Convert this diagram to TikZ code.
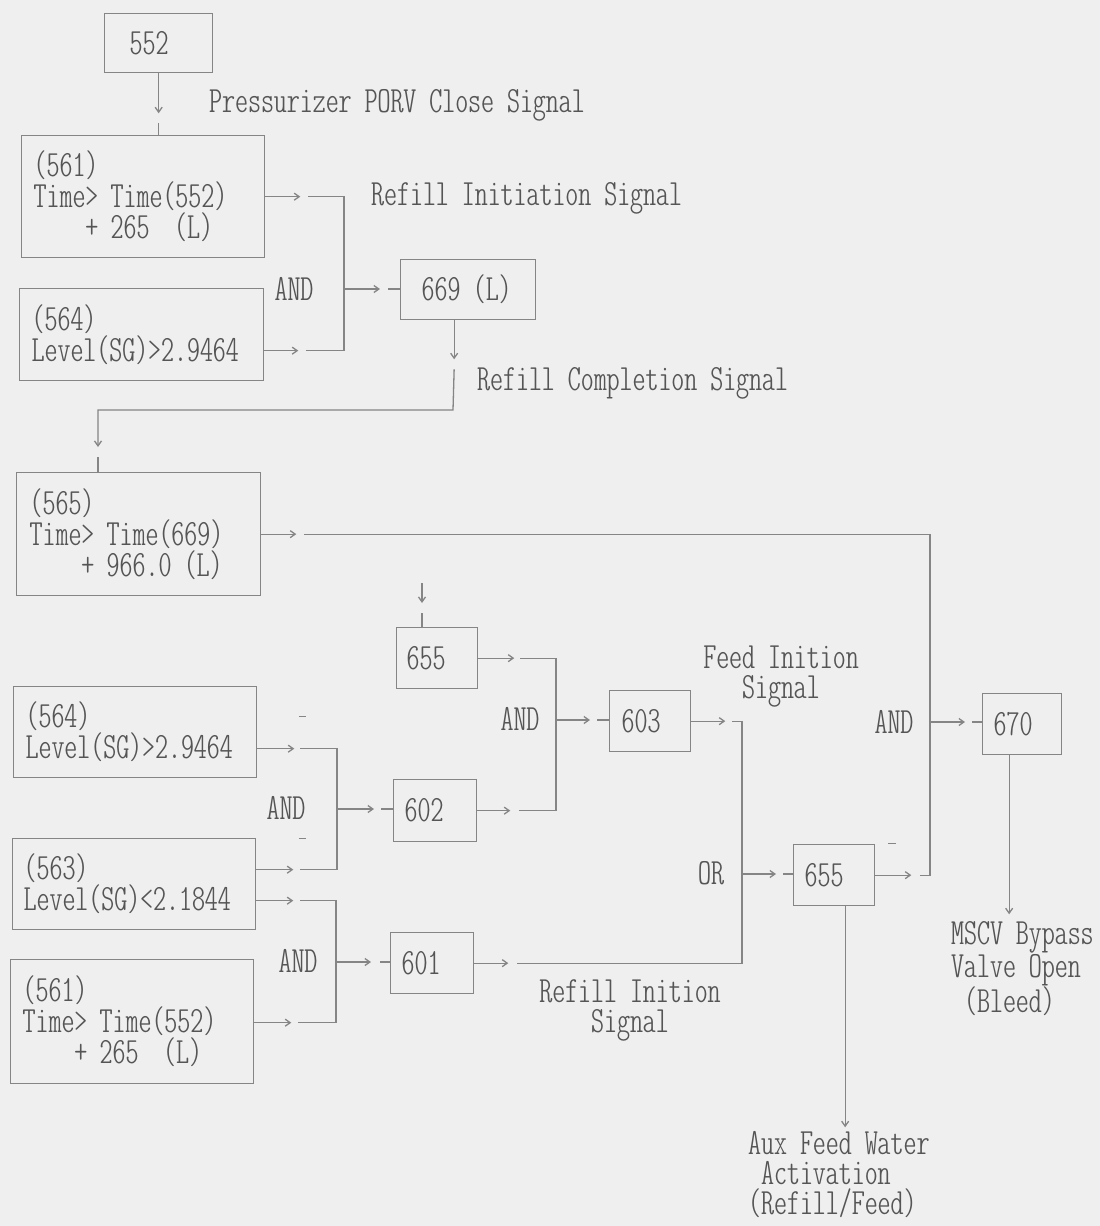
\documentclass[tikz,border=0pt]{standalone}
\usetikzlibrary{arrows.meta,calc}
\definecolor{bgc}{HTML}{EFEFEF}
\definecolor{lnc}{HTML}{858585}
\definecolor{txc}{HTML}{555555}
\newcommand\fnt{\fontfamily{lmtt}\fontseries{lc}\fontsize{37}{31}\selectfont}
\newcommand\fntl{\fontfamily{lmtt}\fontseries{lc}\fontsize{37}{30}\selectfont}
\newcommand\bx[8]{\node[box, minimum width=#4pt, minimum height=#5pt, inner xsep=#6pt, text width=#7pt] (#1) at (#2,#3) {#8};}
\begin{document}
\begin{tikzpicture}[x=1pt,y=-1pt,
  ln/.style={draw=lnc, line width=1.3pt},
  sa/.style={ln, -{Straight Barb[length=5pt,width=7pt]}},
  box/.style={draw=lnc, line width=1.3pt, text=txc, font=\fnt, align=left, anchor=north west, inner ysep=0pt},
  lbl/.style={text=txc, font=\fntl, inner sep=0pt}]
\fill[bgc] (0,0) rectangle (1100,1226);
\useasboundingbox (0,0) rectangle (1100,1226);
% boxes
\bx{b552}{104}{13}{108}{59}{25}{58}{552}
\bx{b561a}{21}{135}{243}{122}{12}{219}{(561)\\Time>~Time(552)\\\hphantom{Time}+~265~~(L)}
\bx{b564a}{19}{288}{244}{92}{12}{220}{(564)\\Level(SG)>2.9464}
\bx{b669}{400}{259}{135}{60}{21}{93}{669~(L)}
\bx{b565}{16}{472}{244}{123}{13}{218}{(565)\\Time>~Time(669)\\\hphantom{Time}+~966.0~(L)}
\bx{b655a}{396}{627}{81}{61}{10}{61}{655}
\bx{b564b}{13}{686}{243}{91}{12}{219}{(564)\\Level(SG)>2.9464}
\bx{b563}{12}{838}{243}{91}{11}{221}{(563)\\Level(SG)<2.1844}
\bx{b561b}{10}{959}{243}{124}{12}{219}{(561)\\Time>~Time(552)\\\hphantom{Time}+~265~~(L)}
\bx{b602}{393}{779}{83}{62}{11}{61}{602}
\bx{b601}{390}{932}{83}{61}{11}{61}{601}
\bx{b603}{609}{690}{81}{61}{12}{57}{603}
\bx{b655b}{793}{844}{81}{61}{11}{59}{655}
\bx{b670}{982}{693}{79}{61}{11}{57}{670}
% labels
\node[lbl, anchor=west] (tporv) at (209,105) {Pressurizer PORV Close Signal};
\node[lbl, anchor=west] (trinit) at (371,198) {Refill Initiation Signal};
\node[lbl] (tand1) at (294,289) {AND};
\node[lbl, anchor=west] (trcomp) at (477,383) {Refill Completion Signal};
\node[lbl] (tand3) at (520,719) {AND};
\node[lbl] (tand2) at (286,808) {AND};
\node[lbl] (tand4) at (298,961) {AND};
\node[lbl] (tand5) at (894,722) {AND};
\node[lbl] (tor) at (711,873) {OR};
\node[lbl, align=center] (tfeed) at (781,677) {Feed Inition\\Signal};
\node[lbl, align=center] (trefill) at (630,1010) {Refill Inition\\Signal};
\node[lbl, align=left, anchor=west] (tmscv) at (951,969) {MSCV Bypass\\Valve Open\\\hphantom{(}(Bleed)};
\node[lbl, align=left, anchor=west] (taux) at (748,1175) {Aux Feed Water\\\hphantom{A}Activation\\(Refill/Feed)};
% junctions
\coordinate (and1) at (344,289);
\coordinate (c1) at (453,410);
\coordinate (c2) at (98,410);
\coordinate (and5) at (930,722);
\coordinate (top655) at (422,583);
\coordinate (and3) at (556,720);
\coordinate (or1) at (742,874);
\coordinate (and2) at (337,809);
\coordinate (and4) at (336,962);
% A: 552 -> 561
\draw[sa] (b552.south) -- ++(0,40);
\draw[ln] ($(b552.south)+(0,50)$) -- (b552.south |- b561a.north);
% B: 561a, 564a -> AND -> 669
\draw[sa] (b561a.east) -- ++(35,0);
\draw[sa] ($(b564a.east)+(0,16)$) -- ++(34,0);
\draw[ln] ($(b561a.east)+(43,0)$) -| (and1) |- ($(b564a.east)+(42,16)$);
\draw[sa] (and1) -- ++(36,0);
\draw[ln] ($(and1)+(44,0)$) -- (b669.west |- and1);
% C: 669 -> 565
\draw[sa] ($(b669.south)+(-14,0)$) -- ++(0,39);
\draw[sa] ($(b669.south)+(-14,49)$) -- (c1) -- (c2) -- ++(0,37);
\draw[ln] ($(c2)+(0,47)$) -- (c2 |- b565.north);
% D: 565 -> AND5, 655b -> AND5
\draw[sa] (b565.east) -- ++(35,0);
\draw[sa] (b655b.east) -- ++(36,0);
\draw[ln] ($(b565.east)+(43,0)$) -| (and5) |- ($(b655b.east)+(45,0)$);
% E: AND5 -> 670
\draw[sa] (and5) -- ++(35,0);
\draw[ln] ($(and5)+(42,0)$) -- (b670.west |- and5);
% F: 670 down
\draw[sa] ($(b670.south)+(-13,0)$) -- ++(0,159);
% G: 655b down
\draw[sa] ($(b655b.south)+(11,0)$) -- ++(0,221);
% H: into 655a
\draw[sa] (top655) -- ++(0,20);
\draw[ln] ($(top655)+(0,30)$) -- (top655 |- b655a.north);
% I: 655a, 602 -> AND3
\draw[sa] (b655a.east) -- ++(36,0);
\draw[sa] (b602.east) -- ++(33,0);
\draw[ln] ($(b655a.east)+(42,0)$) -| (and3) |- ($(b602.east)+(42,0)$);
% J: AND3 -> 603
\draw[sa] (and3) -- ++(34,0);
\draw[ln] ($(and3)+(41,0)$) -- (b603.west |- and3);
% K: 603, 601 -> OR
\draw[sa] (b603.east) -- ++(34,0);
\draw[sa] (b601.east) -- ++(34,0);
\draw[ln] ($(b603.east)+(41,0)$) -| (or1) |- ($(b601.east)+(43,0)$);
% L: OR -> 655b
\draw[sa] (or1) -- ++(34,0);
\draw[ln] ($(or1)+(41,0)$) -- (b655b.west |- or1);
% M: 564b, 563 -> AND2 -> 602
\draw[sa] ($(b564b.east)+(0,16.5)$) -- ++(37,0);
\draw[sa] ($(b563.east)+(0,-14.5)$) -- ++(37,0);
\draw[ln] ($(b564b.east)+(43,16.5)$) -| (and2) |- ($(b563.east)+(44,-14.5)$);
\draw[sa] (and2) -- ++(37,0);
\draw[ln] ($(and2)+(44,0)$) -- (b602.west |- and2);
% N: 563, 561b -> AND4 -> 601
\draw[sa] ($(b563.east)+(0,16.5)$) -- ++(37,0);
\draw[sa] ($(b561b.east)+(0,1)$) -- ++(37,0);
\draw[ln] ($(b563.east)+(44,16.5)$) -| (and4) |- ($(b561b.east)+(44,1)$);
\draw[sa] (and4) -- ++(35,0);
\draw[ln] ($(and4)+(44,0)$) -- (b601.west |- and4);
% small marks
\draw[ln, line width=1pt] (299,716) -- (306,716);
\draw[ln, line width=1pt] (299,838) -- (306,838);
\draw[ln, line width=1pt] (888,843) -- (896,843);
\end{tikzpicture}
\end{document}
